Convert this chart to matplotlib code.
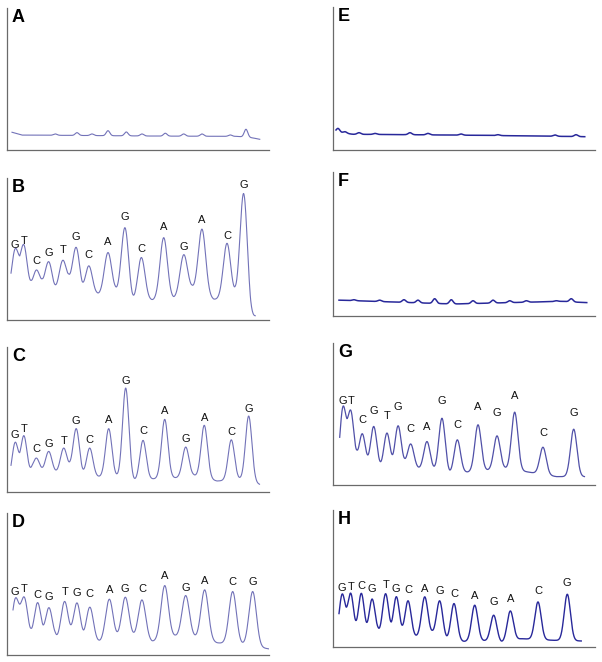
import matplotlib
matplotlib.use('Agg')

import numpy as np
import matplotlib.pyplot as plt

plt.rcParams['font.family'] = ['Liberation Sans', 'DejaVu Sans']

# ---- data (x in scan units, y in % of full scale) ----
# peaks: apex position / height; valleys: trough position / level between peaks

# A: no template, only noise
a_peak_x = [48.3, 70.0, 85.0, 101.0, 119.3, 135.0, 158.3, 176.7, 195.0, 223.3, 239.0]
a_peak_h = [11.3, 12.2, 11.3, 13.6, 12.7, 11.3, 11.8, 11.3, 11.3, 10.6, 14.6]
a_valley_x = [5.0, 15.0, 60.0, 150.0, 230.0, 246.0, 253.0]
a_valley_y = [12.5, 10.5, 10.3, 9.8, 9.6, 8.5, 7.5]

# B
b_bases = list("GTCGTGCAGCAGACG")
b_peak_x = [8.3, 16.7, 29.3, 41.7, 55.7, 69.3, 81.7, 101.0, 118.0, 134.3, 156.7, 176.7, 195.0, 220.0, 236.7]
b_peak_h = [47.0, 50.0, 35.0, 41.0, 42.0, 51.0, 38.0, 47.5, 65.0, 44.0, 58.0, 46.0, 64.0, 54.0, 89.0]
b_label_y = [52.9, 55.8, 41.2, 47.1, 49.4, 58.8, 45.9, 54.6, 72.2, 50.1, 65.2, 51.1, 70.6, 59.5, 95.3]
b_valley_x = [4.0, 12.7, 24.0, 35.0, 46.7, 61.7, 75.0, 90.0, 108.3, 125.0, 143.3, 166.7, 185.0, 206.7, 228.3, 243.5, 248.3]
b_valley_y = [33.0, 40.7, 28.0, 29.0, 27.0, 32.5, 27.5, 19.5, 24.0, 20.0, 15.3, 16.5, 24.7, 14.8, 24.0, 8.0, 3.0]

# C
c_bases = list("GTCGTGCAGCAGACG")
c_peak_x = [8.3, 16.7, 29.3, 41.7, 56.7, 69.3, 82.7, 101.7, 118.7, 136.0, 157.7, 178.7, 197.3, 224.3, 241.7]
c_peak_h = [33.3, 37.9, 23.4, 28.0, 30.3, 43.7, 30.3, 43.7, 71.7, 35.6, 50.1, 31.0, 46.0, 36.0, 52.4]
c_label_y = [39.1, 43.2, 29.4, 33.3, 34.9, 48.7, 35.6, 49.4, 76.6, 42.1, 55.6, 36.3, 51.3, 41.4, 57.0]
c_valley_x = [4.0, 12.7, 25.0, 35.0, 48.3, 63.3, 75.0, 91.7, 110.0, 126.7, 146.7, 170.0, 186.7, 210.0, 233.3, 252.7]
c_valley_y = [18.4, 23.7, 18.4, 17.0, 15.4, 21.8, 17.7, 11.0, 12.6, 10.3, 9.2, 10.3, 12.2, 7.6, 10.3, 5.3]

# D
d_bases = list("GTCGTGCAGCAGACG")
d_peak_x = [8.3, 17.3, 30.7, 41.7, 57.7, 70.0, 82.7, 102.3, 118.3, 135.0, 157.7, 178.7, 197.7, 225.7, 245.7]
d_peak_h = [38.1, 38.8, 36.5, 32.9, 37.6, 36.5, 33.6, 39.3, 40.7, 38.8, 48.9, 41.9, 45.9, 44.7, 44.7]
d_label_y = [44.7, 46.4, 42.4, 40.9, 44.2, 43.5, 42.8, 45.9, 46.6, 46.4, 55.3, 47.5, 52.2, 51.1, 51.3]
d_valley_x = [6.0, 12.7, 24.0, 36.0, 48.3, 63.3, 76.7, 91.7, 110.0, 126.7, 145.0, 168.3, 186.7, 210.0, 236.7, 263.0]
d_valley_y = [25.9, 29.4, 18.8, 21.2, 16.0, 21.6, 17.6, 10.6, 16.5, 16.0, 10.1, 14.1, 15.3, 8.7, 9.4, 4.2]

# E: no template
e_peak_x = [5.0, 12.0, 26.0, 42.0, 77.0, 95.0, 128.0, 165.0, 222.0, 243.0]
e_peak_h = [15.1, 12.8, 12.1, 11.6, 12.1, 11.6, 11.2, 10.7, 10.5, 10.7]
e_valley_x = [3.0, 20.0, 60.0, 140.0, 200.0, 252.0]
e_valley_y = [14.0, 11.0, 10.8, 10.3, 9.8, 9.3]

# F: no template
f_peak_x = [21.0, 46.7, 71.0, 85.0, 101.7, 118.3, 140.0, 160.0, 176.7, 193.3, 223.3, 238.3]
f_peak_h = [11.3, 11.0, 11.3, 11.0, 12.0, 11.3, 10.6, 11.0, 10.6, 10.6, 10.6, 12.0]
f_valley_x = [6.0, 120.0, 230.0, 244.0, 254.0]
f_valley_y = [11.0, 10.2, 10.2, 9.6, 9.3]

# G
g_bases = list("GTCGTGCAGCAGACG")
g_peak_x = [10.0, 17.7, 29.3, 40.7, 54.0, 65.0, 77.7, 94.0, 109.0, 124.3, 145.0, 164.0, 181.7, 210.0, 240.7]
g_peak_h = [52.9, 49.9, 36.0, 41.2, 36.5, 41.6, 28.9, 30.6, 47.0, 31.8, 42.4, 34.6, 51.3, 26.6, 39.3]
g_label_y = [59.5, 59.5, 45.9, 51.8, 48.9, 54.8, 39.5, 40.7, 59.3, 42.4, 54.8, 50.6, 62.8, 36.9, 50.6]
g_valley_x = [6.7, 14.0, 24.0, 35.0, 46.7, 60.0, 71.7, 85.0, 100.0, 116.7, 133.3, 155.0, 171.7, 193.3, 223.3, 251.7]
g_valley_y = [33.6, 38.8, 24.7, 21.2, 17.2, 21.9, 18.8, 12.9, 14.1, 10.6, 9.4, 11.0, 12.9, 9.4, 5.9, 5.9]

# H
h_bases = list("GTCGTGCAGCAGACG")
h_peak_x = [9.3, 17.7, 28.3, 39.0, 52.7, 63.3, 75.0, 91.7, 106.7, 121.0, 141.7, 160.7, 177.3, 205.0, 234.3]
h_peak_h = [37.8, 38.3, 39.0, 34.9, 38.8, 36.6, 33.7, 36.6, 33.7, 31.7, 30.5, 23.2, 26.3, 32.9, 38.5]
h_label_y = [43.2, 43.9, 44.4, 42.7, 45.6, 42.0, 41.5, 42.2, 40.7, 39.0, 37.1, 32.9, 34.9, 40.7, 46.6]
h_valley_x = [6.0, 13.3, 23.3, 33.3, 45.0, 58.3, 69.3, 81.7, 99.3, 113.3, 130.0, 151.7, 168.3, 188.3, 220.0, 248.3]
h_valley_y = [24.4, 26.8, 19.5, 18.3, 14.6, 18.3, 15.9, 9.8, 12.2, 8.5, 4.4, 4.9, 4.4, 6.1, 4.9, 4.4]


def peaks_at(x, peak_x, peak_h, bx, by, sigma):
    s = np.zeros_like(x)
    for px, ph in zip(peak_x, peak_h):
        amp = ph - np.interp(px, bx, by)
        s = s + amp * np.exp(-0.5 * ((x - px) / sigma) ** 2)
    return s


def trace(peak_x, peak_h, valley_x, valley_y, sigma):
    # chromatogram = background + one gaussian per called peak;
    # background is adjusted so the troughs land on the measured valley levels
    vx = np.array(valley_x)
    vy = np.array(valley_y)
    by = vy.copy()
    for _ in range(30):
        by = np.clip(vy - peaks_at(vx, peak_x, peak_h, vx, by, sigma), 0, None)
    x = np.arange(vx[0], vx[-1], 0.25)
    y = np.interp(x, vx, by) + peaks_at(x, peak_x, peak_h, vx, by, sigma)
    return x, y


# panel name, (left, top, bottom) in pixels from top-left, data, sigma, colour, width
W, H = 602, 662
light = '#7272b8'
dark = '#28289a'
panels = [
    ('A', (7, 8, 150), (a_peak_x, a_peak_h, a_valley_x, a_valley_y, None, None), 1.8, light, 0.8),
    ('B', (7, 178, 320), (b_peak_x, b_peak_h, b_valley_x, b_valley_y, b_bases, b_label_y), 3.7, light, 0.8),
    ('C', (7, 347, 492), (c_peak_x, c_peak_h, c_valley_x, c_valley_y, c_bases, c_label_y), 3.2, light, 0.8),
    ('D', (7, 513, 655), (d_peak_x, d_peak_h, d_valley_x, d_valley_y, d_bases, d_label_y), 3.7, light, 0.8),
    ('E', (333, 7, 150), (e_peak_x, e_peak_h, e_valley_x, e_valley_y, None, None), 1.8, dark, 1.1),
    ('F', (333, 172, 316), (f_peak_x, f_peak_h, f_valley_x, f_valley_y, None, None), 1.8, dark, 1.1),
    ('G', (333, 343, 485), (g_peak_x, g_peak_h, g_valley_x, g_valley_y, g_bases, g_label_y), 3.2, '#5050a8', 0.9),
    ('H', (333, 510, 647), (h_peak_x, h_peak_h, h_valley_x, h_valley_y, h_bases, h_label_y), 3.1, dark, 1.0),
]

fig = plt.figure(figsize=(W / 100, H / 100), dpi=100)

for name, (left, top, bottom), (px, ph, vx, vy, bases, label_y), sigma, color, lw in panels:
    ax = fig.add_axes([left / W, 1 - bottom / H, 262 / W, (bottom - top) / H])
    x, y = trace(px, ph, vx, vy, sigma)
    ax.plot(x, y, color=color, lw=lw)
    if bases is not None:
        for xi, yi, b in zip(px, label_y, bases):
            ax.text(xi, yi, b, ha='center', va='center', fontsize=8, color='#111111')
    ax.set_xlim(0, 262)
    ax.set_ylim(0, 100)
    ax.set_xticks([])
    ax.set_yticks([])
    for side in ['top', 'right']:
        ax.spines[side].set_visible(False)
    for side in ['left', 'bottom']:
        ax.spines[side].set_color('#6a6a6a')
        ax.spines[side].set_linewidth(0.9)
    ax.text(5 / 262, 0.995, name, transform=ax.transAxes, ha='left', va='top',
            fontsize=13, fontweight='bold')

fig.savefig('out.png', dpi=100)
